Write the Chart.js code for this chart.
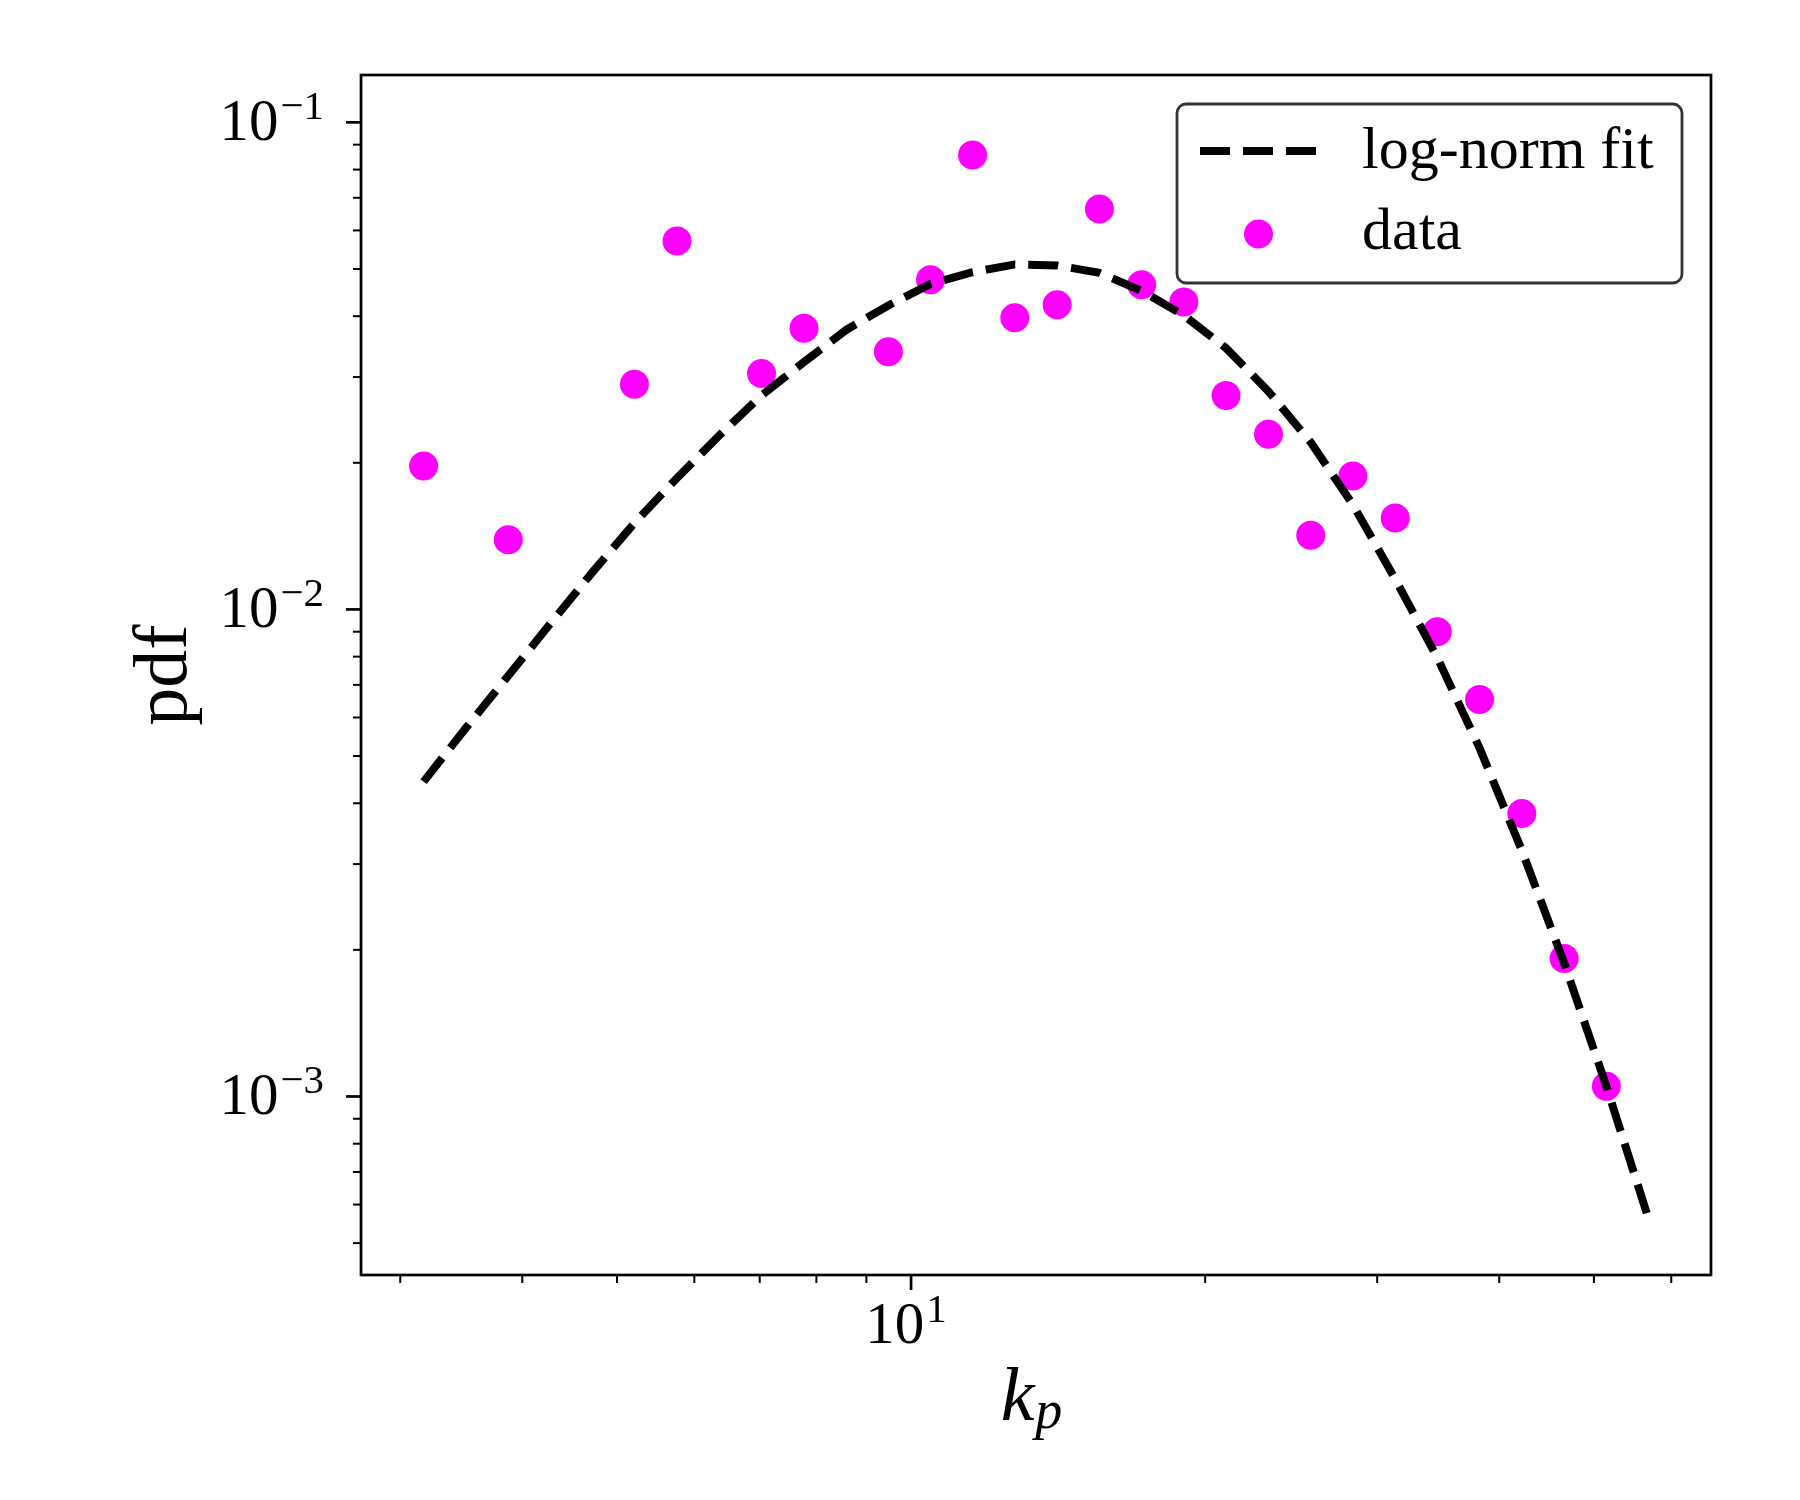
<!DOCTYPE html>
<html lang="en">
<head>
  <meta charset="UTF-8">
  <title>k_p pdf with log-norm fit</title>
  <script src="https://cdn.jsdelivr.net/npm/chart.js"></script>
  <style>
    body {
      margin: 0;
      background: #ffffff;
      overflow: hidden;
    }
    canvas {
      display: block;
    }
  </style>
</head>
<body>
  <canvas id="pdfChart" width="1800" height="1500"></canvas>

  <script>
    // bin centres of the log-norm fit curve
    const fitK = [3.17, 3.50, 3.87, 4.27, 4.72, 5.21, 5.76, 6.36, 7.03, 7.77,
                  8.58, 9.48, 10.47, 11.56, 12.77, 14.11, 15.59, 17.22, 19.02, 21.01,
                  23.22, 25.65, 28.33, 31.30, 34.57, 38.19, 42.19, 46.61, 51.49, 56.88];
    const fitPdf = [0.00443, 0.00570, 0.00731, 0.00933, 0.01193, 0.01505, 0.01861, 0.02274, 0.02751, 0.03221,
                    0.03748, 0.04209, 0.04659, 0.04924, 0.05109, 0.05086, 0.04908, 0.04508, 0.04015, 0.03440,
                    0.02803, 0.02204, 0.01641, 0.01154, 0.00796, 0.00519, 0.00320, 0.00188, 0.00105, 0.00056];

    // measured histogram points
    const dataK = [3.17, 3.87, 5.21, 5.76, 7.03, 7.77, 9.48, 10.47, 11.56, 12.77,
                   14.11, 15.59, 17.22, 19.02, 21.01, 23.22, 25.65, 28.33, 31.30, 34.57,
                   38.19, 42.19, 46.61, 51.49];
    const dataPdf = [0.0197, 0.0139, 0.0290, 0.0571, 0.0305, 0.0378, 0.0338, 0.0475, 0.0857, 0.0397,
                     0.0422, 0.0664, 0.0464, 0.0428, 0.0275, 0.0229, 0.0142, 0.0188, 0.0154, 0.0090,
                     0.00653, 0.00381, 0.00192, 0.00105];

    // axis limits and ticks
    const xRange = [2.735, 65.89];
    const yRange = [0.000430, 0.1251];
    const xMajorTicks = [10];
    const xMajorExp = ['1'];
    const xMinorTicks = [3, 4, 5, 6, 7, 8, 9, 20, 30, 40, 50, 60];
    const yMajorTicks = [0.1, 0.01, 0.001];
    const yMajorExp = ['\u22121', '\u22122', '\u22123'];
    const yMinorTicks = [0.0005, 0.0006, 0.0007, 0.0008, 0.0009,
                         0.002, 0.003, 0.004, 0.005, 0.006, 0.007, 0.008, 0.009,
                         0.02, 0.03, 0.04, 0.05, 0.06, 0.07, 0.08, 0.09];
    const legendLabels = ['log-norm fit', 'data'];

    const SERIF = '"Liberation Serif", "DejaVu Serif", serif';
    const MAGENTA = '#ff00ff';
    const DASH = [30, 13];
    const FIT_WIDTH = 8;

    // draws "10" with a superscript exponent
    function drawPower(ctx, exp, x, baseline, align) {
      ctx.font = '59px ' + SERIF;
      const wBase = ctx.measureText('10').width;
      ctx.font = '41px ' + SERIF;
      const wExp = ctx.measureText(exp).width;
      const total = wBase + 2 + wExp;
      let start = x - total;
      if (align === 'center') start = x - total / 2;
      ctx.textAlign = 'left';
      ctx.textBaseline = 'alphabetic';
      ctx.font = '59px ' + SERIF;
      ctx.fillText('10', start, baseline);
      ctx.font = '41px ' + SERIF;
      ctx.fillText(exp, start + wBase + 2, baseline - 21);
    }

    const axesPlugin = {
      id: 'mplAxes',
      afterDraw: (chart) => {
        const { ctx, chartArea: a, scales } = chart;
        const xs = scales.x, ys = scales.y;
        ctx.save();
        ctx.fillStyle = '#000';
        ctx.strokeStyle = '#000';
        ctx.setLineDash([]);

        // frame
        ctx.lineWidth = 2.7;
        ctx.strokeRect(a.left, a.top, a.right - a.left, a.bottom - a.top);

        // x ticks
        ctx.lineWidth = 2.7;
        xMajorTicks.forEach((v, i) => {
          const px = xs.getPixelForValue(v);
          ctx.beginPath(); ctx.moveTo(px, a.bottom); ctx.lineTo(px, a.bottom + 15); ctx.stroke();
          drawPower(ctx, xMajorExp[i], px - 5, a.bottom + 68, 'center');
        });
        ctx.lineWidth = 2;
        xMinorTicks.forEach(v => {
          const px = xs.getPixelForValue(v);
          ctx.beginPath(); ctx.moveTo(px, a.bottom); ctx.lineTo(px, a.bottom + 8); ctx.stroke();
        });

        // y ticks
        ctx.lineWidth = 2.7;
        yMajorTicks.forEach((v, i) => {
          const py = ys.getPixelForValue(v);
          ctx.beginPath(); ctx.moveTo(a.left, py); ctx.lineTo(a.left - 15, py); ctx.stroke();
          drawPower(ctx, yMajorExp[i], a.left - 37, py + 18, 'right');
        });
        ctx.lineWidth = 2;
        yMinorTicks.forEach(v => {
          const py = ys.getPixelForValue(v);
          ctx.beginPath(); ctx.moveTo(a.left, py); ctx.lineTo(a.left - 8, py); ctx.stroke();
        });

        // axis labels
        const midX = (a.left + a.right) / 2;
        ctx.font = 'italic 76px ' + SERIF;
        const wk = ctx.measureText('k').width;
        ctx.font = 'italic 54px ' + SERIF;
        const wp = ctx.measureText('p').width;
        const kStart = midX - 5 - (wk + wp) / 2;
        ctx.textAlign = 'left';
        ctx.font = 'italic 76px ' + SERIF;
        ctx.fillText('k', kStart, a.bottom + 145);
        ctx.font = 'italic 54px ' + SERIF;
        ctx.fillText('p', kStart + wk + 1, a.bottom + 153);

        ctx.save();
        ctx.translate(a.left - 175, (a.top + a.bottom) / 2);
        ctx.rotate(-Math.PI / 2);
        ctx.textAlign = 'center';
        ctx.font = '76px ' + SERIF;
        ctx.fillText('pdf', 0, 0);
        ctx.restore();

        // legend box
        const bx = a.right - 534, by = a.top + 29, bw = 505, bh = 179, r = 9;
        ctx.beginPath();
        ctx.moveTo(bx + r, by);
        ctx.arcTo(bx + bw, by, bx + bw, by + bh, r);
        ctx.arcTo(bx + bw, by + bh, bx, by + bh, r);
        ctx.arcTo(bx, by + bh, bx, by, r);
        ctx.arcTo(bx, by, bx + bw, by, r);
        ctx.closePath();
        ctx.fillStyle = '#ffffff';
        ctx.fill();
        ctx.lineWidth = 2.8;
        ctx.strokeStyle = '#333333';
        ctx.stroke();

        // legend entries
        ctx.strokeStyle = '#000';
        ctx.lineWidth = FIT_WIDTH;
        ctx.setLineDash(DASH);
        ctx.beginPath();
        ctx.moveTo(bx + 23, by + 47);
        ctx.lineTo(bx + 140, by + 47);
        ctx.stroke();
        ctx.setLineDash([]);

        ctx.fillStyle = MAGENTA;
        ctx.beginPath();
        ctx.arc(bx + 81.5, by + 130, 14.5, 0, Math.PI * 2);
        ctx.fill();

        ctx.fillStyle = '#000';
        ctx.font = '60px ' + SERIF;
        ctx.textAlign = 'left';
        ctx.fillText(legendLabels[0], bx + 185, by + 64);
        ctx.fillText(legendLabels[1], bx + 185, by + 145);

        ctx.restore();
      }
    };

    const ctx = document.getElementById('pdfChart').getContext('2d');

    new Chart(ctx, {
      type: 'scatter',
      data: {
        datasets: [
          {
            type: 'line',
            label: legendLabels[0],
            data: fitK.map((k, i) => ({ x: k, y: fitPdf[i] })),
            borderColor: '#000000',
            borderWidth: FIT_WIDTH,
            borderDash: DASH,
            borderCapStyle: 'butt',
            pointRadius: 0,
            tension: 0,
            fill: false,
          },
          {
            label: legendLabels[1],
            data: dataK.map((k, i) => ({ x: k, y: dataPdf[i] })),
            backgroundColor: MAGENTA,
            borderWidth: 0,
            pointRadius: 14.5,
            pointHoverRadius: 14.5,
          }
        ]
      },
      options: {
        responsive: false,
        devicePixelRatio: 1,
        animation: false,
        layout: {
          padding: { left: 361, top: 75, right: 89, bottom: 225 }
        },
        plugins: {
          legend: { display: false },
          tooltip: { enabled: false },
        },
        scales: {
          x: {
            type: 'logarithmic',
            display: false,
            min: xRange[0],
            max: xRange[1],
          },
          y: {
            type: 'logarithmic',
            display: false,
            min: yRange[0],
            max: yRange[1],
          },
        },
      },
      plugins: [axesPlugin],
    });
  </script>
</body>
</html>
